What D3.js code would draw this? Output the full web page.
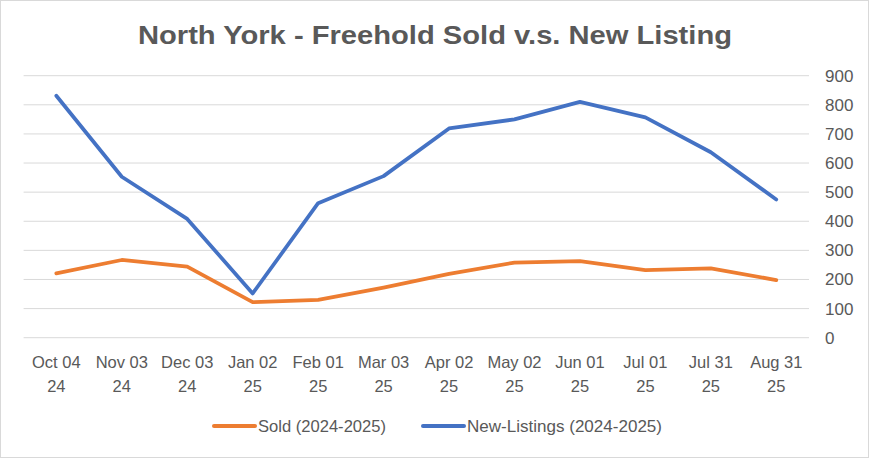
<!DOCTYPE html>
<html>
<head>
<meta charset="utf-8">
<script src="https://cdn.jsdelivr.net/npm/d3@7"></script>
<style>
  body { margin: 0; background: #fff; }
  text { font-family: "Liberation Sans", Arial, sans-serif; fill: #595959; }
</style>
</head>
<body>
<div id="chart"></div>
<script>
// Data
const dates = ["Oct 04|24", "Nov 03|24", "Dec 03|24", "Jan 02|25", "Feb 01|25", "Mar 03|25",
               "Apr 02|25", "May 02|25", "Jun 01|25", "Jul 01|25", "Jul 31|25", "Aug 31|25"];
const sold = [221, 267, 244, 122, 130, 172, 219, 258, 263, 232, 238, 198];
const newListings = [831, 553, 408, 152, 462, 555, 719, 750, 810, 757, 637, 475];
const yTicks = [0, 100, 200, 300, 400, 500, 600, 700, 800, 900];

const W = 869, H = 458;
const plot = {left: 23.6, right: 809, top: 75.7, bottom: 337.7};

const svg = d3.select("#chart")
    .append("svg")
    .attr("width", W)
    .attr("height", H);

// chart border
svg.append("rect")
    .attr("x", 0.5).attr("y", 0.5)
    .attr("width", W - 1).attr("height", H - 1)
    .attr("fill", "#fff")
    .attr("stroke", "#d9d9d9");

const x = d3.scaleBand()
    .domain(dates)
    .range([plot.left, plot.right]);

const y = d3.scaleLinear()
    .domain([0, 900])
    .range([plot.bottom, plot.top]);

// gridlines
svg.append("g")
    .selectAll("line")
    .data(yTicks)
    .enter()
    .append("line")
    .attr("x1", plot.left)
    .attr("x2", plot.right)
    .attr("y1", d => y(d))
    .attr("y2", d => y(d))
    .attr("stroke", "#d9d9d9")
    .attr("stroke-width", 1);

// right axis labels
const yAxis = svg.append("g")
    .attr("transform", `translate(${plot.right + 16},0)`)
    .call(d3.axisRight(y).tickValues(yTicks).tickSize(0).tickPadding(0));
yAxis.select(".domain").remove();
yAxis.selectAll("text")
    .style("font-size", "17px")
    .attr("fill", "#595959");

// category labels (two lines)
const xAxis = svg.append("g")
    .attr("transform", `translate(0,${plot.bottom})`)
    .call(d3.axisBottom(x).tickSize(0).tickFormat(""));
xAxis.select(".domain").remove();
xAxis.selectAll(".tick")
    .append("text")
    .attr("text-anchor", "middle")
    .style("font-size", "16.5px")
    .attr("fill", "#595959")
    .each(function(d) {
        const parts = d.split("|");
        d3.select(this).append("tspan").attr("x", 0).attr("y", 30).text(parts[0]);
        d3.select(this).append("tspan").attr("x", 0).attr("y", 54).text(parts[1]);
    });

const cx = d => x(d) + x.bandwidth() / 2;

const line = d3.line()
    .x((d, i) => cx(dates[i]))
    .y(d => y(d));

svg.append("path")
    .datum(sold)
    .attr("d", line)
    .attr("fill", "none")
    .attr("stroke", "#ED7D31")
    .attr("stroke-width", 3.75)
    .attr("stroke-linecap", "round")
    .attr("stroke-linejoin", "round");

svg.append("path")
    .datum(newListings)
    .attr("d", line)
    .attr("fill", "none")
    .attr("stroke", "#4472C4")
    .attr("stroke-width", 3.75)
    .attr("stroke-linecap", "round")
    .attr("stroke-linejoin", "round");

// title
svg.append("text")
    .attr("x", 138)
    .attr("y", 43.5)
    .attr("textLength", 594)
    .attr("lengthAdjust", "spacingAndGlyphs")
    .style("font-size", "25.5px")
    .style("font-weight", "bold")
    .text("North York - Freehold Sold v.s. New Listing");

// legend
const legend = [
    {name: "Sold (2024-2025)", color: "#ED7D31", x: 214, w: 128},
    {name: "New-Listings (2024-2025)", color: "#4472C4", x: 423, w: 195}
];
const lg = svg.append("g");
legend.forEach(d => {
    lg.append("line")
        .attr("x1", d.x).attr("x2", d.x + 41)
        .attr("y1", 426).attr("y2", 426)
        .attr("stroke", d.color)
        .attr("stroke-width", 4)
        .attr("stroke-linecap", "round");
    lg.append("text")
        .attr("x", d.x + 44)
        .attr("y", 432)
        .attr("textLength", d.w)
        .attr("lengthAdjust", "spacingAndGlyphs")
        .style("font-size", "16.5px")
        .text(d.name);
});
</script>
</body>
</html>
